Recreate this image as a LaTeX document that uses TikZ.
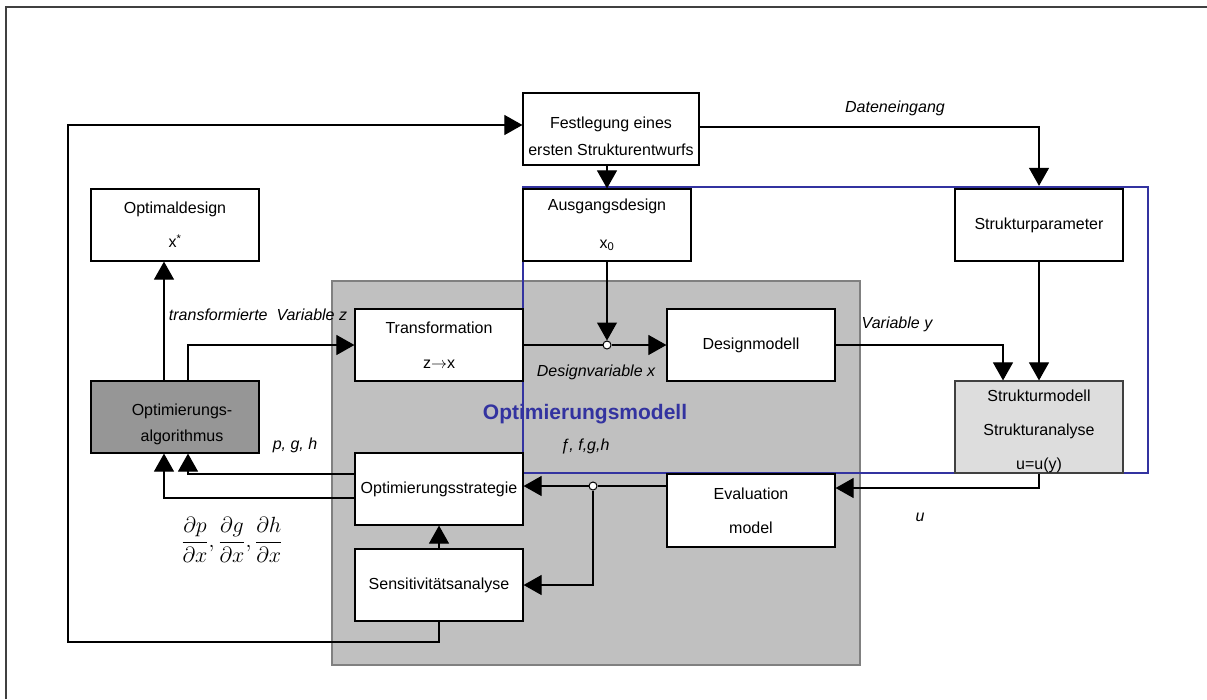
\RequirePackage{fix-cm}
\documentclass[tikz,border=0pt]{standalone}
\usepackage{fontspec}
\setmainfont{Liberation Sans}
\usetikzlibrary{arrows.meta,calc}
\definecolor{obl}{RGB}{51,51,160}
\definecolor{gbox}{RGB}{192,192,192}
\definecolor{galg}{RGB}{150,150,150}
\definecolor{gsm}{RGB}{221,221,221}
\begin{document}
\begin{tikzpicture}[x=1pt,y=-1pt,
  every node/.style={font=\fontsize{16}{19.2}\selectfont},
  box/.style={draw=black, line width=1.2pt, fill=white, inner sep=0pt, minimum width=168pt, minimum height=72pt, align=center},
  arr/.style={line width=1.1pt, -{Triangle[length=18pt,width=20pt]}},
  ln/.style={line width=1.1pt},
  lab/.style={font=\fontsize{16}{19.2}\selectfont\itshape, inner sep=0pt},
  dot/.style={circle, draw=black, fill=white, line width=1pt, minimum size=8pt, inner sep=0pt}]
\useasboundingbox (0,0) rectangle (1207,699);
\draw[black!75, line width=1.5pt] (6,699) -- (6,7) -- (1207,7);
% big regions
\node[draw=black!50, line width=1.5pt, fill=gbox, minimum width=528pt, minimum height=384pt, inner sep=0pt] (omodel) at (596,473) {};
\node[draw=obl, line width=2.3pt, minimum width=625pt, minimum height=286pt, inner sep=0pt] (blue) at (835.5,330) {};
% boxes
\node[box, minimum width=176pt] (fest) at (611,129) {\rule{0pt}{26pt}Festlegung eines\\[7pt]ersten Strukturentwurfs};
\node[box] (ausg) at (607,225) {Ausgangsdesign\\[18pt]x\textsubscript{0}};
\node[box] (spar) at (1039,225) {Strukturparameter};
\node[box] (optd) at (175,225) {Optimaldesign\\[15pt]x\textsuperscript{*}};
\node[box] (trans) at (439,345) {Transformation\\[16pt]z$\rightarrow$x};
\node[box] (dmod) at (751,345) {Designmodell};
\node[box, fill=gsm, draw=black!75, minimum height=92pt] (smod) at (1039,427) {\rule{0pt}{20pt}Strukturmodell\\[15pt]Strukturanalyse\\[15pt]u=u(y)};
\node[box, fill=galg] (alg) at (175,417) {\rule{0pt}{26pt}\hspace*{14pt}Optimierungs-\\[7pt]\hspace*{14pt}algorithmus};
\node[box] (strat) at (439,489) {Optimierungsstrategie};
\node[box, minimum height=73pt] (eval) at (751,510.5) {Evaluation\\[15pt]model};
\node[box] (sens) at (439,585) {Sensitivitätsanalyse};
% junctions
\node[dot] (jn1) at (ausg.south |- 0,345) {};
\node[dot] (jn2) at (593,486) {};
% connectors
\draw[arr] (sens.south) -- (sens.south |- 0,642) -| (68,125) -- (fest.west |- 0,125);
\draw[arr] (fest.east |- 0,127) -| (spar.north |- blue.north);
\draw[arr] (ausg.north |- fest.south) -- (ausg.north);
\draw[arr] (ausg.south) -- (jn1.north);
\draw[ln] (trans.east) -- (jn1.west);
\draw[arr] (jn1.east) -- (dmod.west);
\draw[arr] (dmod.east) -| ($(smod.north)+(-36,0)$);
\draw[arr] (spar.south) -- (smod.north);
\draw[arr] (smod.south) |- (eval.east |- 0,488);
\draw[ln] (eval.west |- jn2) -- (jn2.east);
\draw[arr] (jn2.west) -- (strat.east |- jn2);
\draw[arr] (jn2.south) |- (sens.east);
\draw[arr] (sens.north) -- (strat.south);
\draw[arr] (strat.west |- 0,474) -| ($(alg.south)+(13,0)$);
\draw[arr] (strat.west |- 0,498) -| ($(alg.south)+(-11,0)$);
\draw[arr] ($(alg.north)+(-11,0)$) -- ($(optd.south)+(-11,0)$);
\draw[arr] ($(alg.north)+(13,0)$) |- (trans.west);
% labels
\node[lab] (dat) at (895,108) {Dateneingang};
\node[lab] (tvz) at (258,315) {transformierte\ \ Variable z};
\node[lab] (dvx) at (596,372) {Designvariable x};
\node[lab] (vy) at (897,324) {Variable y};
\node[lab] (ul) at (920,517) {u};
\node[lab] (pgh) at (295,445) {p, g, h};
\node[lab] (fgh) at (585,446) {ƒ, f,g,h};
\node[font=\fontsize{21}{25}\selectfont\bfseries, text=obl, inner sep=0pt] (omt) at (585,414) {Optimierungsmodell};
\node[inner sep=0pt] (deriv) at (232,540) {\fontsize{22}{26}\selectfont$\displaystyle\frac{\partial p}{\partial x},\frac{\partial g}{\partial x},\frac{\partial h}{\partial x}$};
\end{tikzpicture}
\end{document}
